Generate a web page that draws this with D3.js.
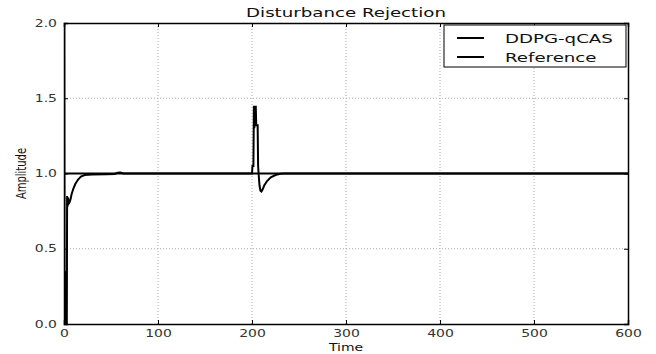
<!DOCTYPE html>
<html>
<head>
<meta charset="utf-8">
<script src="https://cdn.jsdelivr.net/npm/d3@7/dist/d3.min.js"></script>
<style>
  html, body { margin: 0; padding: 0; background: #fff; }
  svg { display: block; font-family: "DejaVu Sans", sans-serif; }
</style>
</head>
<body>
<svg id="chart" width="656" height="354"></svg>
<script>
// Controller response to a step and a load disturbance at t = 200
const ddpgTime = [0, 0.3, 0.6, 1.0, 1.4, 1.8, 2.2, 2.6, 3.0, 3.3, 3.8, 4.3, 5, 6, 7, 8, 10, 12, 15, 18, 22, 30, 45, 54, 57, 60, 63,
  200, 200.5, 201.5, 202, 202.5, 203, 203.5, 204, 204.5, 205.5, 206, 206.5, 207, 208, 209, 210, 211, 213, 216, 220, 225, 230, 235, 600];
const ddpgValue = [0, 2.0, 0.0, 0.35, 0.0, 0.35, 0.0, 0.35, 0.0, 0.85, 0.78, 0.84, 0.80, 0.81, 0.83, 0.86, 0.90, 0.93, 0.96, 0.98, 0.99, 0.993, 0.995, 0.997, 1.005, 1.006, 1.0,
  1.0, 1.05, 1.05, 1.45, 1.3, 1.45, 1.32, 1.45, 1.32, 1.32, 1.32, 1.05, 1.0, 0.92, 0.885, 0.88, 0.89, 0.92, 0.95, 0.975, 0.99, 0.998, 1.0, 1.0];

const refTime = [0, 600];
const refValue = [1.0, 1.0];

const xTicks = [0, 100, 200, 300, 400, 500, 600];
const yTicks = [0.0, 0.5, 1.0, 1.5, 2.0];
const seriesNames = ["DDPG-qCAS", "Reference"];

// text is drawn with a wide horizontal aspect
const SX = 1.4;

const svg = d3.select("#chart");
const m = { left: 64, right: 28, top: 23, bottom: 30 };
const W = 656, H = 354;
const x = d3.scaleLinear().domain([0, 600]).range([m.left, W - m.right]);
const y = d3.scaleLinear().domain([0, 2]).range([H - m.bottom, m.top]);

// dotted grid
const grid = svg.append("g");
grid.selectAll("line.gx").data(xTicks.slice(1, -1)).join("line")
  .attr("x1", d => x(d)).attr("x2", d => x(d))
  .attr("y1", y(0)).attr("y2", y(2))
  .attr("stroke", "#aaa").attr("stroke-width", 1).attr("stroke-dasharray", "1,2");
grid.selectAll("line.gy").data(yTicks.slice(1, -1)).join("line")
  .attr("x1", x(0)).attr("x2", x(600))
  .attr("y1", d => y(d)).attr("y2", d => y(d))
  .attr("stroke", "#aaa").attr("stroke-width", 1).attr("stroke-dasharray", "1,2");

// clip lines to plot area
svg.append("clipPath").attr("id", "plotclip").append("rect")
  .attr("x", x(0)).attr("y", y(2) - 1).attr("width", x(600) - x(0)).attr("height", y(0) - y(2) + 2);

const line = d3.line().x(d => x(d[0])).y(d => y(d[1]));
const plot = svg.append("g").attr("clip-path", "url(#plotclip)");
plot.append("path")
  .datum(d3.zip(refTime, refValue))
  .attr("d", line).attr("fill", "none").attr("stroke", "#000").attr("stroke-width", 2);
plot.append("path")
  .datum(d3.zip(ddpgTime, ddpgValue))
  .attr("d", line).attr("fill", "none").attr("stroke", "#000").attr("stroke-width", 2)
  .attr("stroke-linejoin", "miter");

// axes with inward ticks on all four sides
const tickLen = 4;
const fmtY = d3.format(".1f");
const axB = svg.append("g").attr("transform", `translate(0,${y(0)})`)
  .call(d3.axisBottom(x).tickValues(xTicks).tickSize(-tickLen).tickPadding(6).tickFormat(d3.format("d")));
const axT = svg.append("g").attr("transform", `translate(0,${y(2)})`)
  .call(d3.axisTop(x).tickValues(xTicks).tickSize(-tickLen).tickFormat(""));
const axL = svg.append("g").attr("transform", `translate(${x(0)},0)`)
  .call(d3.axisLeft(y).tickValues(yTicks).tickSize(-tickLen).tickPadding(5).tickFormat(fmtY));
const axR = svg.append("g").attr("transform", `translate(${x(600)},0)`)
  .call(d3.axisRight(y).tickValues(yTicks).tickSize(-tickLen).tickFormat(""));
[axB, axT, axL, axR].forEach(g => {
  g.select(".domain").attr("stroke", "#000").attr("stroke-width", 1.5);
  g.selectAll(".tick line").attr("stroke", "#000").attr("stroke-width", 1);
  g.selectAll(".tick text").attr("fill", "#333").attr("font-size", 10)
    .attr("font-family", "DejaVu Sans, sans-serif")
    .attr("transform", `scale(${SX},1)`);
});

// titles
svg.append("text").attr("transform", `translate(${(x(0) + x(600)) / 2},17) scale(${SX},1)`)
  .attr("text-anchor", "middle").attr("font-size", 13).attr("fill", "#111")
  .text("Disturbance Rejection");
svg.append("text").attr("transform", `translate(${(x(0) + x(600)) / 2},351) scale(${SX},1)`)
  .attr("text-anchor", "middle").attr("font-size", 10).attr("fill", "#111")
  .text("Time");
svg.append("text").attr("transform", `translate(26,${y(1)}) scale(${SX},1) rotate(-90)`)
  .attr("text-anchor", "middle").attr("font-size", 10).attr("fill", "#111")
  .text("Amplitude");

// legend
const lg = svg.append("g").attr("transform", "translate(444,25)");
lg.append("rect").attr("width", 182).attr("height", 42)
  .attr("fill", "#fff").attr("stroke", "#000").attr("stroke-width", 1);
seriesNames.forEach((name, i) => {
  const yy = 13 + i * 19;
  lg.append("line").attr("x1", 13).attr("x2", 40).attr("y1", yy).attr("y2", yy)
    .attr("stroke", "#000").attr("stroke-width", 2);
  lg.append("text").attr("transform", `translate(61,${yy + 5}) scale(${SX},1)`)
    .attr("font-size", 13).attr("fill", "#111").text(name);
});
</script>
</body>
</html>
